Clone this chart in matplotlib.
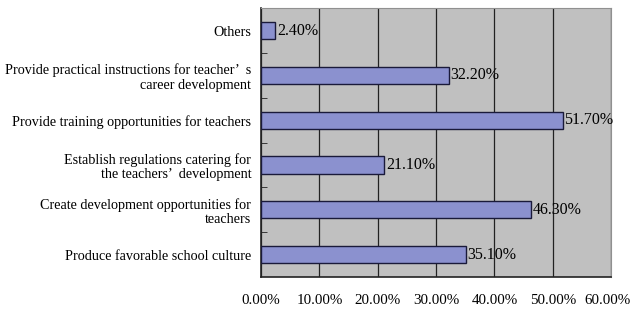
import numpy as np
import matplotlib.pyplot as plt
import matplotlib.transforms as mtransforms
from matplotlib.ticker import FixedLocator

plt.rcParams['font.family'] = ['Liberation Serif', 'DejaVu Serif']

labels = [
    "Produce favorable school culture",
    "Create development opportunities for\nteachers",
    "Establish regulations catering for\nthe teachers\u2019  development",
    "Provide training opportunities for teachers",
    "Provide practical instructions for teacher\u2019  s\ncareer development",
    "Others",
]
values = [35.1, 46.3, 21.1, 51.7, 32.2, 2.4]
xticks = [0, 10, 20, 30, 40, 50, 60]

fig = plt.figure(figsize=(6.32, 3.11), dpi=100)
ax = fig.add_axes([0.413, 0.109, 0.554, 0.865])
ax.set_facecolor('#c0c0c0')

y = np.arange(len(values))
ax.barh(y, values, height=0.38, color='#8b91cf', edgecolor='#1a1a3a', linewidth=1, zorder=3)

for yi, v in zip(y, values):
    ax.text(v + 0.3, yi, f"{v:.2f}%", va='center', ha='left', fontsize=11.5, zorder=4)

ax.set_xlim(0, 60)
ax.set_ylim(-0.5, 5.5)
ax.set_xticks(xticks)
ax.set_xticklabels([f"{t:.2f}%" for t in xticks], fontsize=10.8)
ax.tick_params(axis='x', length=0, pad=12)
ax.xaxis.grid(True, color='#222222', linewidth=0.9, zorder=1)

# nudge the last tick label so it stays inside the figure
last = ax.get_xticklabels()[-1]
last.set_transform(last.get_transform() + mtransforms.ScaledTranslation(-4 / 100, 0, fig.dpi_scale_trans))

ax.set_yticks(y)
ax.set_yticklabels(labels, fontsize=10.2, linespacing=1.15)
ax.tick_params(axis='y', length=0, pad=7)
ax.yaxis.set_minor_locator(FixedLocator(np.arange(0.5, 5.5, 1)))
ax.tick_params(axis='y', which='minor', direction='in', length=4, color='#222222')

for s in ['left', 'bottom']:
    ax.spines[s].set_color('#222222')
    ax.spines[s].set_linewidth(1.2)
for s in ['top', 'right']:
    ax.spines[s].set_color('#909090')

fig.savefig('out.png', dpi=100)
